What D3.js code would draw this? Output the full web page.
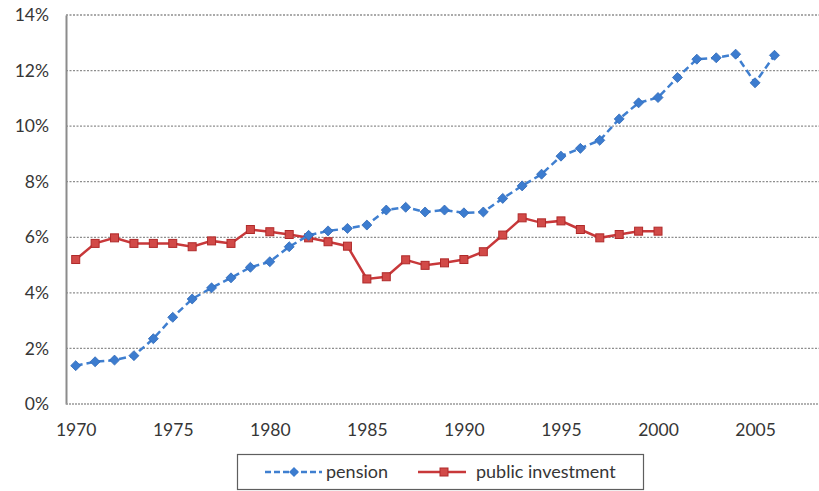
<!DOCTYPE html>
<html><head><meta charset="utf-8">
<script src="https://cdn.jsdelivr.net/npm/d3@7"></script>
<style>
html,body{margin:0;padding:0;background:#fff;}
svg{display:block;font-family:Lato,"Open Sans",sans-serif;}
</style></head>
<body><svg id="c" width="819" height="491"></svg>
<script>
const years = [1970,1971,1972,1973,1974,1975,1976,1977,1978,1979,1980,1981,1982,1983,1984,1985,1986,1987,1988,1989,1990,1991,1992,1993,1994,1995,1996,1997,1998,1999,2000,2001,2002,2003,2004,2005,2006];
const pension = [1.38,1.52,1.58,1.74,2.35,3.12,3.78,4.18,4.54,4.92,5.12,5.66,6.07,6.23,6.32,6.44,6.98,7.08,6.91,6.98,6.88,6.91,7.40,7.85,8.27,8.92,9.20,9.49,10.26,10.84,11.03,11.75,12.41,12.46,12.59,11.56,12.55];
const publicInvestment = [5.20,5.78,5.98,5.78,5.78,5.78,5.66,5.87,5.78,6.28,6.20,6.10,5.98,5.84,5.68,4.50,4.58,5.19,4.99,5.08,5.20,5.48,6.08,6.70,6.52,6.59,6.28,5.98,6.10,6.22,6.22];
const xTicks = [1970,1975,1980,1985,1990,1995,2000,2005];
const yTicks = [0,2,4,6,8,10,12,14];
const seriesNames = ["pension","public investment"];

const svg = d3.select("#c");
const x = d3.scaleLinear().domain([1969.5, 2008.5]).range([66, 823]);
const y = d3.scaleLinear().domain([0, 14]).range([404, 15]);
const textColor = "#363636";

// gridlines
svg.append("g").selectAll("line").data(yTicks.filter(d=>d>0)).join("line")
  .attr("x1", 66).attr("x2", 819)
  .attr("y1", d=>y(d)).attr("y2", d=>y(d))
  .attr("stroke", "#8e8e8e").attr("stroke-width", 1.3).attr("stroke-dasharray", "2,1.5");

// axes
const yAxis = d3.axisLeft(y).tickValues(yTicks).tickFormat(d=>d+"%").tickSize(0).tickPadding(17);
const gy = svg.append("g").attr("transform","translate(66,0)").call(yAxis);
gy.select(".domain").attr("stroke","#8c8c8c").attr("stroke-width",2);
gy.selectAll("text").attr("font-size",17.5).attr("fill",textColor).attr("font-family","Lato,sans-serif");

const xAxis = d3.axisBottom(x).tickValues(xTicks).tickFormat(d=>String(d)).tickSize(0).tickPadding(20);
const gx = svg.append("g").attr("transform","translate(0,404)").call(xAxis);
gx.select(".domain").remove();
gx.selectAll("text").attr("font-size",17.5).attr("fill",textColor).attr("font-family","Lato,sans-serif");
svg.append("line").attr("x1",66).attr("x2",819).attr("y1",y(0)).attr("y2",y(0))
  .attr("stroke","#999").attr("stroke-width",1.5).attr("stroke-dasharray","2,1");

const blue = "#3f7fd0", red = "#c8383a";

const pData = years.map((yr,i)=>({yr, v: pension[i]}));
const rData = publicInvestment.map((v,i)=>({yr: years[i], v}));
const line = d3.line().x(d=>x(d.yr)).y(d=>y(d.v));

svg.append("path").datum(rData).attr("d", line)
  .attr("fill","none").attr("stroke",red).attr("stroke-width",2.5);
svg.append("g").selectAll("rect").data(rData).join("rect")
  .attr("x", d=>x(d.yr)-4).attr("y", d=>y(d.v)-4).attr("width",8).attr("height",8)
  .attr("fill","#d24a48").attr("stroke","#b02a2a").attr("stroke-width",1);

svg.append("path").datum(pData).attr("d", line)
  .attr("fill","none").attr("stroke",blue).attr("stroke-width",2.5).attr("stroke-dasharray","7,4");
const diamond = d3.symbol().type(d3.symbolDiamond2).size(64);
svg.append("g").selectAll("path").data(pData).join("path")
  .attr("d", diamond)
  .attr("transform", d=>`translate(${x(d.yr)},${y(d.v)})`)
  .attr("fill","#3c7ccf").attr("stroke","#2f68b8").attr("stroke-width",0.8);

// legend
const lg = svg.append("g");
lg.append("rect").attr("x",237.5).attr("y",454.5).attr("width",406).attr("height",35)
  .attr("fill","#fff").attr("stroke","#5e5e5e").attr("stroke-width",1.2);
lg.append("line").attr("x1",265).attr("x2",322).attr("y1",472).attr("y2",472)
  .attr("stroke",blue).attr("stroke-width",2.5).attr("stroke-dasharray","6,3");
lg.append("path").attr("d", diamond).attr("transform","translate(294,472)").attr("fill","#3c7ccf");
lg.append("text").attr("x",326).attr("y",478).text(seriesNames[0])
  .attr("font-size",18).attr("fill",textColor);
lg.append("line").attr("x1",418).attr("x2",466).attr("y1",472).attr("y2",472)
  .attr("stroke",red).attr("stroke-width",2.5);
lg.append("rect").attr("x",440).attr("y",468).attr("width",8).attr("height",8)
  .attr("fill","#d24a48").attr("stroke","#b02a2a");
lg.append("text").attr("x",476).attr("y",478).text(seriesNames[1])
  .attr("font-size",18).attr("fill",textColor);
</script></body></html>
